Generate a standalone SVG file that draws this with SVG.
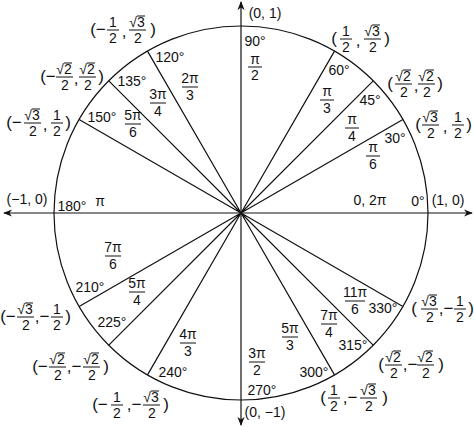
<svg xmlns="http://www.w3.org/2000/svg" width="474" height="427" viewBox="0 0 474 427">
<style>
text{font-family:"Liberation Sans Narrow","Liberation Sans",sans-serif;font-size:14px;fill:#111;text-anchor:middle}
.p{font-size:17px}
.b{stroke:#111;stroke-width:1.2;fill:none}
.f{stroke:#111;stroke-width:1}
</style>
<defs>
<marker id="ah" viewBox="0 0 10 10" refX="9" refY="5" markerWidth="9" markerHeight="9" orient="auto-start-reverse" markerUnits="userSpaceOnUse"><path d="M0,1 L10,5 L0,9 L3,5Z" fill="#111"/></marker>
</defs>
<g id="connectors">
<circle class="b" cx="241" cy="213" r="187"/>
<line class="b" x1="4" y1="213" x2="472" y2="213" marker-start="url(#ah)" marker-end="url(#ah)"/>
<line class="b" x1="241" y1="2" x2="241" y2="425" marker-start="url(#ah)" marker-end="url(#ah)"/>
<path class="b" d="M241,213L402.9,119.5M241,213L373.2,80.8M241,213L334.5,51.1M241,213L147.5,51.1M241,213L108.8,80.8M241,213L79.1,119.5M241,213L79.1,306.5M241,213L108.8,345.2M241,213L147.5,374.9M241,213L334.5,374.9M241,213L373.2,345.2M241,213L402.9,306.5"/>
</g>
<g id="axes-labels">
<text x="265" y="18">(0, 1)</text>
<text x="265" y="417">(0, −1)</text>
<text x="448" y="205">(1, 0)</text>
<text x="27" y="204">(−1, 0)</text>
<text x="255" y="46">90°</text>
<text x="255" y="64">π</text><line class="f" x1="248" y1="67" x2="262" y2="67"/><text x="255" y="80">2</text>
<text x="418" y="206">0°</text>
<text x="370" y="205">0, 2π</text>
<text x="72" y="211">180°</text>
<text x="100" y="206">π</text>
</g>
<g id="q2-angles">
<text x="170" y="62">120°</text>
<text x="190" y="83">2π</text><line class="f" x1="182" y1="87" x2="198" y2="87"/><text x="190" y="100">3</text>
<text x="132" y="86">135°</text>
<text x="158" y="99">3π</text><line class="f" x1="150" y1="103" x2="166" y2="103"/><text x="158" y="116">4</text>
<text x="102" y="122">150°</text>
<text x="133" y="120">5π</text><line class="f" x1="125" y1="124" x2="141" y2="124"/><text x="133" y="137">6</text>
</g>
<g id="q2-coords">
<text class="p" x="98" y="35">(−</text>
<text x="113" y="27">1</text><line class="f" x1="107" y1="30" x2="119" y2="30"/><text x="113" y="43">2</text>
<text class="p" x="124" y="37">,</text>
<text x="137" y="27">√3</text><line class="f" x1="137" y1="16" x2="145" y2="16"/><line class="f" x1="129" y1="30" x2="146" y2="30"/><text x="138" y="43">2</text>
<text class="p" x="153" y="35">)</text>

<text class="p" x="48" y="82">(−</text>
<text x="64" y="74">√2</text><line class="f" x1="64" y1="63" x2="72" y2="63"/><line class="f" x1="56" y1="77" x2="73" y2="77"/><text x="65" y="90">2</text>
<text class="p" x="76" y="84">,</text>
<text x="87" y="74">√2</text><line class="f" x1="87" y1="63" x2="95" y2="63"/><line class="f" x1="79" y1="77" x2="96" y2="77"/><text x="88" y="90">2</text>
<text class="p" x="101" y="82">)</text>

<text class="p" x="14" y="128">(−</text>
<text x="32" y="120">√3</text><line class="f" x1="32" y1="109" x2="40" y2="109"/><line class="f" x1="24" y1="123" x2="41" y2="123"/><text x="33" y="136">2</text>
<text class="p" x="45" y="130">,</text>
<text x="57" y="120">1</text><line class="f" x1="51" y1="123" x2="63" y2="123"/><text x="57" y="136">2</text>
<text class="p" x="68" y="128">)</text>
</g>
<g id="q1-angles">
<text x="339" y="75">60°</text>
<text x="327" y="96">π</text><line class="f" x1="320" y1="100" x2="334" y2="100"/><text x="327" y="113">3</text>
<text x="370" y="105">45°</text>
<text x="352" y="124">π</text><line class="f" x1="345" y1="128" x2="359" y2="128"/><text x="352" y="141">4</text>
<text x="395" y="143">30°</text>
<text x="373" y="152">π</text><line class="f" x1="366" y1="156" x2="380" y2="156"/><text x="373" y="169">6</text>
</g>
<g id="q1-coords">
<text class="p" x="334" y="44">(</text>
<text x="346" y="36">1</text><line class="f" x1="340" y1="39" x2="352" y2="39"/><text x="346" y="52">2</text>
<text class="p" x="358" y="46">,</text>
<text x="372" y="36">√3</text><line class="f" x1="372" y1="25" x2="380" y2="25"/><line class="f" x1="364" y1="39" x2="381" y2="39"/><text x="373" y="52">2</text>
<text class="p" x="387" y="44">)</text>

<text class="p" x="390" y="89">(</text>
<text x="403" y="81">√2</text><line class="f" x1="403" y1="70" x2="411" y2="70"/><line class="f" x1="395" y1="84" x2="412" y2="84"/><text x="404" y="97">2</text>
<text class="p" x="416" y="91">,</text>
<text x="426" y="81">√2</text><line class="f" x1="426" y1="70" x2="434" y2="70"/><line class="f" x1="418" y1="84" x2="435" y2="84"/><text x="427" y="97">2</text>
<text class="p" x="440" y="89">)</text>

<text class="p" x="418" y="130">(</text>
<text x="430" y="122">√3</text><line class="f" x1="430" y1="111" x2="438" y2="111"/><line class="f" x1="422" y1="125" x2="439" y2="125"/><text x="431" y="138">2</text>
<text class="p" x="445" y="132">,</text>
<text x="458" y="122">1</text><line class="f" x1="452" y1="125" x2="464" y2="125"/><text x="458" y="138">2</text>
<text class="p" x="469" y="130">)</text>
</g>
<g id="q3-angles">
<text x="113" y="252">7π</text><line class="f" x1="105" y1="256" x2="121" y2="256"/><text x="113" y="269">6</text>
<text x="90" y="292">210°</text>
<text x="137" y="288">5π</text><line class="f" x1="129" y1="292" x2="145" y2="292"/><text x="137" y="305">4</text>
<text x="112" y="327">225°</text>
<text x="188" y="339">4π</text><line class="f" x1="180" y1="343" x2="196" y2="343"/><text x="188" y="356">3</text>
<text x="173" y="377">240°</text>
</g>
<g id="q3-coords">
<text class="p" x="8" y="322">(−</text>
<text x="25" y="314">√3</text><line class="f" x1="25" y1="303" x2="33" y2="303"/><line class="f" x1="17" y1="317" x2="34" y2="317"/><text x="26" y="330">2</text>
<text class="p" x="42" y="322">,−</text>
<text x="57" y="314">1</text><line class="f" x1="51" y1="317" x2="63" y2="317"/><text x="57" y="330">2</text>
<text class="p" x="68" y="322">)</text>

<text class="p" x="40" y="372">(−</text>
<text x="57" y="364">√2</text><line class="f" x1="57" y1="353" x2="65" y2="353"/><line class="f" x1="49" y1="367" x2="66" y2="367"/><text x="58" y="380">2</text>
<text class="p" x="74" y="372">,−</text>
<text x="91" y="364">√2</text><line class="f" x1="91" y1="353" x2="99" y2="353"/><line class="f" x1="83" y1="367" x2="100" y2="367"/><text x="92" y="380">2</text>
<text class="p" x="106" y="372">)</text>

<text class="p" x="100" y="410">(−</text>
<text x="117" y="402">1</text><line class="f" x1="111" y1="405" x2="123" y2="405"/><text x="117" y="418">2</text>
<text class="p" x="134" y="410">,−</text>
<text x="151" y="402">√3</text><line class="f" x1="151" y1="391" x2="159" y2="391"/><line class="f" x1="143" y1="405" x2="160" y2="405"/><text x="152" y="418">2</text>
<text class="p" x="166" y="410">)</text>
</g>
<g id="q4-angles">
<text x="257" y="358">3π</text><line class="f" x1="249" y1="362" x2="265" y2="362"/><text x="257" y="375">2</text>
<text x="262" y="395">270°</text>
<text x="290" y="333">5π</text><line class="f" x1="282" y1="337" x2="298" y2="337"/><text x="290" y="350">3</text>
<text x="314" y="377">300°</text>
<text x="329" y="320">7π</text><line class="f" x1="321" y1="324" x2="337" y2="324"/><text x="329" y="337">4</text>
<text x="353" y="350">315°</text>
<text x="355" y="297">11π</text><line class="f" x1="345" y1="301" x2="365" y2="301"/><text x="355" y="314">6</text>
<text x="383" y="313">330°</text>
</g>
<g id="q4-coords">
<text class="p" x="414" y="314">(</text>
<text x="429" y="306">√3</text><line class="f" x1="429" y1="295" x2="437" y2="295"/><line class="f" x1="421" y1="309" x2="438" y2="309"/><text x="430" y="322">2</text>
<text class="p" x="446" y="314">,−</text>
<text x="460" y="306">1</text><line class="f" x1="454" y1="309" x2="466" y2="309"/><text x="460" y="322">2</text>
<text class="p" x="471" y="314">)</text>

<text class="p" x="381" y="370">(</text>
<text x="393" y="362">√2</text><line class="f" x1="393" y1="351" x2="401" y2="351"/><line class="f" x1="385" y1="365" x2="402" y2="365"/><text x="394" y="378">2</text>
<text class="p" x="410" y="370">,−</text>
<text x="425" y="362">√2</text><line class="f" x1="425" y1="351" x2="433" y2="351"/><line class="f" x1="417" y1="365" x2="434" y2="365"/><text x="426" y="378">2</text>
<text class="p" x="441" y="370">)</text>

<text class="p" x="323" y="403">(</text>
<text x="334" y="395">1</text><line class="f" x1="328" y1="398" x2="340" y2="398"/><text x="334" y="411">2</text>
<text class="p" x="350" y="403">,−</text>
<text x="368" y="395">√3</text><line class="f" x1="368" y1="384" x2="376" y2="384"/><line class="f" x1="360" y1="398" x2="377" y2="398"/><text x="369" y="411">2</text>
<text class="p" x="385" y="403">)</text>
</g>
</svg>
